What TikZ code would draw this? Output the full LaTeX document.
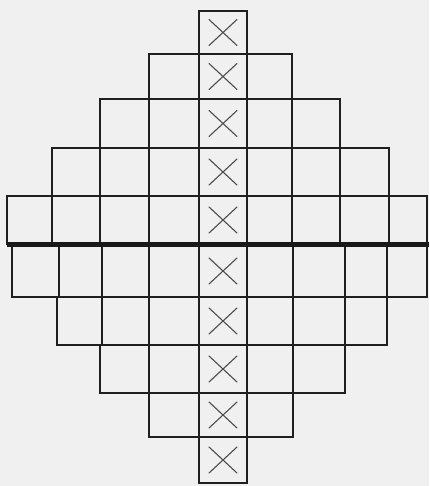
\documentclass[tikz,border=0pt]{standalone}
\begin{document}
\begin{tikzpicture}[x=1pt,y=-1pt,
  gridline/.style={line width=1.6pt,black!88,line join=miter},
  sepline/.style={line width=4.2pt,black!90},
  crossline/.style={line width=1.1pt,black!70,line cap=round}]
\fill[black!6] (0,0) rectangle (429,486);
\useasboundingbox (0,0) rectangle (429,486);
% upper half: rows given as {top/bottom/left/right/inner verticals}
\foreach \t/\b/\l/\r/\v in {11/54/199/247/{},
  54/99/149/292/{199,247},
  99/148/100/340/{149,199,247,292},
  148/196/52/389/{100,149,199,247,292,340},
  196/244/7/427/{52,100,149,199,247,292,340,389}}{
  \draw[gridline] (\l,\t) rectangle (\r,\b);
  \foreach \x in \v {\draw[gridline] (\x,\t) -- (\x,\b);}
}
% lower half
\foreach \t/\b/\l/\r/\v in {245/297/12/427/{59,102,149,199,247,293,345,387},
  297/345/57/387/{102,149,199,247,293,345},
  345/393/100/345/{149,199,247,293},
  393/437/149/293/{199,247},
  437/483/199/247/{}}{
  \draw[gridline] (\l,\t) rectangle (\r,\b);
  \foreach \x in \v {\draw[gridline] (\x,\t) -- (\x,\b);}
}
% thick separating line
\draw[sepline] (7,244.5) -- (429,244.5);
% crosses in the middle column
\foreach \c in {32.5,76.5,123.5,172,220,271,321,369,415,460}{
  \draw[crossline] (209,\c-13) -- (237,\c+13);
  \draw[crossline] (237,\c-13) -- (209,\c+13);
}
\end{tikzpicture}
\end{document}
